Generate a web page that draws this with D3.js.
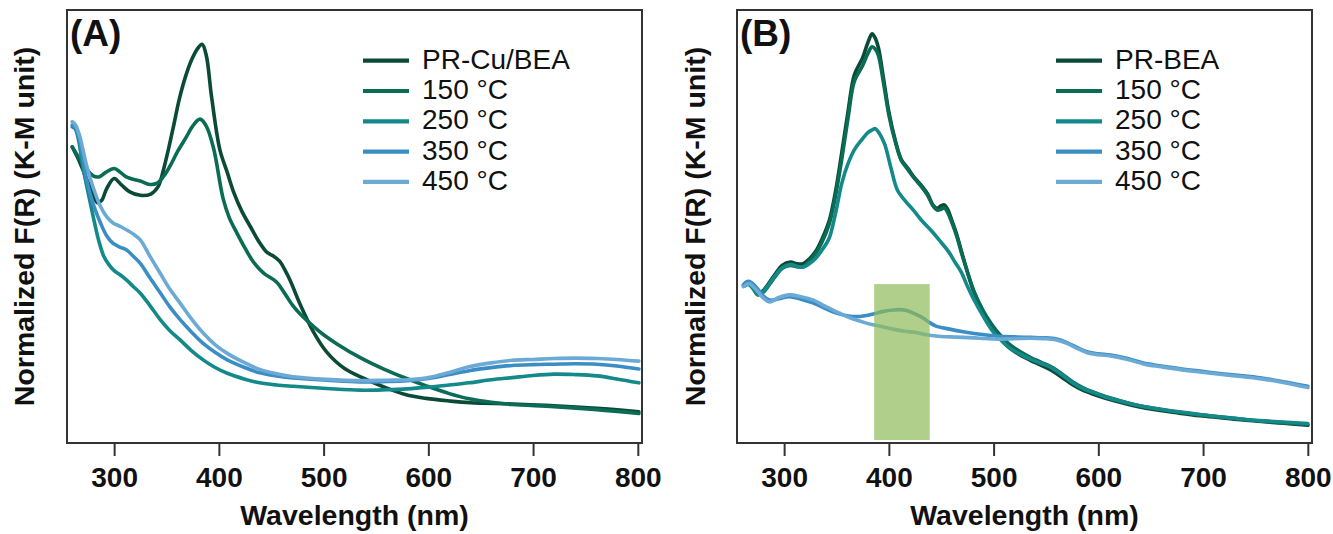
<!DOCTYPE html>
<html><head><meta charset="utf-8">
<script src="https://cdn.jsdelivr.net/npm/d3@7"></script>
<style>
body{margin:0;background:#fff;}
text{font-family:"Liberation Sans",Arial,Helvetica,sans-serif;}
</style></head>
<body><svg id="chart" width="1333" height="534"></svg>
<script>
// ---------- data ----------
const xTicks = [300, 400, 500, 600, 700, 800];
const seriesNamesA = ["PR-Cu/BEA", "150 °C", "250 °C", "350 °C", "450 °C"];
const seriesNamesB = ["PR-BEA", "150 °C", "250 °C", "350 °C", "450 °C"];
const seriesColors = ["#0b4a37", "#0b6c55", "#14898a", "#3b8dc5", "#6baad5"];

const A_PR = [[260,0.684],[266,0.655],[272,0.62],[278,0.585],[284,0.555],[288,0.560],[293,0.588],[300,0.611],[307,0.596],[315,0.580],[325,0.572],[335,0.575],[342,0.592],[347,0.630],[352,0.680],[357,0.735],[362,0.792],[368,0.845],[374,0.885],[380,0.912],[384,0.921],[388,0.895],[393,0.800],[401,0.677],[408,0.625],[414,0.580],[422,0.535],[430,0.500],[438,0.466],[446,0.440],[452,0.432],[458,0.420],[463,0.400],[468,0.376],[478,0.318],[490,0.258],[503,0.210],[520,0.172],[537,0.151],[557,0.130],[578,0.112],[598,0.103],[620,0.097],[640,0.093],[680,0.090],[720,0.086],[761,0.080],[801,0.072]];
const A_150 = [[260,0.684],[266,0.66],[272,0.638],[280,0.617],[286,0.615],[292,0.625],[300,0.634],[306,0.625],[312,0.614],[325,0.605],[334,0.597],[341,0.600],[347,0.615],[353,0.638],[361,0.675],[369,0.707],[375,0.732],[382,0.748],[388,0.732],[395,0.680],[404,0.565],[410,0.520],[417,0.486],[425,0.450],[433,0.418],[443,0.392],[455,0.372],[463,0.345],[471,0.316],[480,0.292],[490,0.270],[500,0.250],[512,0.230],[535,0.197],[558,0.170],[578,0.150],[598,0.132],[620,0.114],[639,0.102],[660,0.094],[680,0.089],[720,0.084],[761,0.077],[801,0.068]];
const A_250 = [[260,0.730],[263,0.725],[266,0.70],[270,0.640],[275,0.580],[280,0.523],[285,0.470],[290,0.432],[295,0.412],[300,0.398],[306,0.388],[312,0.376],[318,0.362],[325,0.346],[334,0.318],[344,0.285],[353,0.260],[363,0.238],[374,0.213],[385,0.192],[396,0.175],[408,0.161],[424,0.148],[439,0.139],[455,0.134],[471,0.131],[503,0.126],[535,0.122],[560,0.123],[580,0.125],[600,0.129],[620,0.134],[639,0.139],[660,0.146],[680,0.151],[700,0.156],[720,0.159],[740,0.158],[761,0.155],[780,0.148],[801,0.139]];
const A_350 = [[260,0.734],[263,0.728],[267,0.70],[270,0.660],[274,0.605],[280,0.552],[287,0.508],[293,0.478],[299,0.461],[306,0.452],[312,0.446],[318,0.432],[325,0.415],[334,0.382],[344,0.347],[353,0.315],[363,0.285],[374,0.256],[385,0.230],[396,0.210],[408,0.192],[424,0.175],[439,0.162],[455,0.155],[471,0.150],[503,0.145],[535,0.141],[560,0.142],[580,0.144],[600,0.149],[620,0.158],[639,0.167],[660,0.174],[680,0.179],[700,0.181],[720,0.182],[740,0.183],[761,0.182],[780,0.178],[801,0.171]];
const A_450 = [[260,0.742],[263,0.735],[267,0.71],[270,0.680],[274,0.638],[280,0.590],[287,0.546],[293,0.522],[299,0.508],[306,0.500],[312,0.492],[318,0.483],[325,0.469],[334,0.432],[344,0.392],[353,0.356],[363,0.323],[374,0.286],[385,0.254],[396,0.228],[408,0.207],[424,0.186],[439,0.170],[455,0.160],[471,0.153],[503,0.147],[535,0.144],[560,0.145],[580,0.146],[600,0.151],[620,0.163],[639,0.176],[660,0.185],[680,0.191],[700,0.193],[720,0.195],[740,0.196],[761,0.195],[780,0.193],[801,0.189]];

const B_PR = [[262,0.365],[266,0.368],[270,0.360],[275,0.345],[280,0.352],[286,0.371],[292,0.392],[298,0.410],[306,0.418],[312,0.414],[318,0.414],[324,0.425],[330,0.442],[336,0.470],[343,0.513],[349,0.580],[355,0.670],[361,0.765],[367,0.850],[375,0.890],[380,0.925],[384,0.945],[387,0.935],[390,0.913],[395,0.840],[400,0.764],[406,0.700],[412,0.654],[418,0.635],[424,0.614],[431,0.595],[437,0.575],[442,0.550],[446,0.542],[450,0.548],[453,0.550],[456,0.540],[460,0.515],[465,0.480],[469,0.445],[475,0.395],[481,0.350],[490,0.302],[498,0.270],[506,0.243],[514,0.222],[524,0.205],[535,0.191],[545,0.180],[555,0.168],[565,0.152],[575,0.135],[585,0.122],[596,0.112],[606,0.104],[616,0.097],[636,0.085],[656,0.076],[677,0.069],[697,0.063],[718,0.058],[738,0.053],[759,0.049],[780,0.045],[800,0.041]];
const B_150 = [[262,0.363],[266,0.366],[270,0.358],[275,0.342],[280,0.348],[286,0.366],[292,0.386],[298,0.403],[306,0.410],[312,0.407],[318,0.408],[324,0.420],[330,0.437],[336,0.463],[343,0.505],[349,0.570],[355,0.655],[361,0.750],[367,0.835],[375,0.872],[380,0.900],[384,0.915],[387,0.910],[390,0.895],[395,0.830],[400,0.758],[406,0.697],[412,0.652],[418,0.632],[424,0.612],[431,0.592],[437,0.572],[442,0.548],[446,0.538],[450,0.540],[453,0.543],[456,0.533],[460,0.510],[465,0.476],[469,0.442],[475,0.395],[481,0.352],[490,0.306],[498,0.275],[506,0.250],[514,0.230],[524,0.213],[535,0.198],[545,0.187],[555,0.176],[565,0.160],[575,0.142],[585,0.128],[596,0.117],[606,0.108],[616,0.101],[636,0.088],[656,0.079],[677,0.071],[697,0.065],[718,0.060],[738,0.055],[759,0.050],[780,0.046],[800,0.042]];
const B_250 = [[262,0.363],[266,0.367],[270,0.358],[275,0.343],[280,0.350],[286,0.368],[292,0.388],[298,0.404],[306,0.412],[312,0.408],[318,0.406],[324,0.414],[330,0.426],[336,0.445],[343,0.473],[349,0.530],[355,0.599],[361,0.645],[367,0.677],[374,0.700],[380,0.717],[384,0.723],[387,0.726],[391,0.715],[396,0.690],[402,0.635],[408,0.585],[416,0.558],[424,0.536],[432,0.512],[441,0.489],[449,0.466],[457,0.442],[463,0.418],[469,0.395],[475,0.362],[481,0.332],[490,0.293],[498,0.262],[506,0.240],[514,0.222],[524,0.207],[535,0.194],[545,0.184],[555,0.174],[565,0.158],[575,0.140],[585,0.126],[596,0.116],[606,0.107],[616,0.100],[636,0.088],[656,0.079],[677,0.072],[697,0.066],[718,0.060],[738,0.055],[759,0.051],[780,0.048],[800,0.045]];
const B_350 = [[261,0.365],[264,0.372],[267,0.373],[270,0.368],[274,0.358],[280,0.340],[286,0.330],[295,0.333],[305,0.338],[316,0.332],[328,0.323],[339,0.311],[350,0.300],[360,0.294],[369,0.292],[377,0.294],[385,0.298],[395,0.304],[404,0.307],[410,0.308],[417,0.306],[425,0.298],[433,0.288],[439,0.278],[445,0.270],[458,0.263],[471,0.257],[487,0.251],[503,0.247],[520,0.245],[535,0.244],[548,0.243],[560,0.240],[570,0.232],[580,0.220],[590,0.210],[600,0.206],[612,0.203],[628,0.195],[644,0.184],[660,0.178],[677,0.172],[697,0.166],[718,0.160],[738,0.155],[759,0.149],[780,0.140],[800,0.131]];
const B_450 = [[261,0.361],[264,0.366],[267,0.368],[270,0.362],[274,0.352],[280,0.335],[286,0.326],[295,0.336],[305,0.342],[316,0.338],[328,0.330],[339,0.316],[350,0.303],[360,0.292],[369,0.284],[377,0.278],[385,0.273],[395,0.268],[404,0.263],[415,0.258],[426,0.255],[436,0.250],[445,0.247],[458,0.245],[471,0.244],[487,0.242],[503,0.240],[520,0.241],[535,0.242],[548,0.241],[560,0.238],[570,0.230],[580,0.218],[590,0.208],[600,0.204],[612,0.201],[628,0.193],[644,0.182],[660,0.176],[677,0.170],[697,0.164],[718,0.158],[738,0.153],[759,0.147],[780,0.138],[800,0.128]];

// highlighted band in panel B (wavelength range, normalized value range)
const highlightX = [386, 439];
const highlightY = [0.007, 0.367];

// ---------- drawing ----------
const svg = d3.select("#chart");
const xDomain = [255, 804];
const yDomain = [0, 1];

const panels = [
  {tag:"(A)", names:seriesNamesA, data:[A_PR,A_150,A_250,A_350,A_450], left:67, right:642, legX:363, yLabX:34, highlight:false},
  {tag:"(B)", names:seriesNamesB, data:[B_PR,B_150,B_250,B_350,B_450], left:737, right:1312, legX:1056, yLabX:705, highlight:true}
];
const plotTop = 10, plotBottom = 443;

panels.forEach(p => {
  const x = d3.scaleLinear().domain(xDomain).range([p.left, p.right]);
  const y = d3.scaleLinear().domain(yDomain).range([plotBottom, plotTop]);
  const g = svg.append("g");

  const line = d3.line().x(d => x(d[0])).y(d => y(d[1])).curve(d3.curveCatmullRom.alpha(0.5));
  p.data.forEach((ser, i) => {
    g.append("path").datum(ser).attr("d", line)
      .attr("fill", "none").attr("stroke", seriesColors[i])
      .attr("stroke-width", 3.6).attr("stroke-linejoin", "round").attr("stroke-linecap", "round");
  });

  if (p.highlight) {
    g.append("rect")
      .attr("x", x(highlightX[0])).attr("width", x(highlightX[1]) - x(highlightX[0]))
      .attr("y", y(highlightY[1])).attr("height", y(highlightY[0]) - y(highlightY[1]))
      .attr("fill", "#8dbb5a").attr("opacity", 0.7);
  }

  // frame
  g.append("rect").attr("x", p.left).attr("y", plotTop)
    .attr("width", p.right - p.left).attr("height", plotBottom - plotTop)
    .attr("fill", "none").attr("stroke", "#333").attr("stroke-width", 2);

  // x axis
  const ax = g.append("g").attr("transform", `translate(0,${plotBottom})`)
    .call(d3.axisBottom(x).tickValues(xTicks).tickSize(13).tickPadding(11).tickFormat(d3.format("d")));
  ax.select(".domain").remove();
  ax.selectAll(".tick line").attr("stroke", "#333").attr("stroke-width", 2);
  ax.selectAll(".tick text").attr("font-size", 28).attr("font-weight", "bold").attr("fill", "#111")
    .style("font-family", '"Liberation Sans",Arial,sans-serif');

  g.append("text").attr("x", (p.left + p.right) / 2).attr("y", 525)
    .attr("text-anchor", "middle").attr("font-size", 28.5).attr("font-weight", "bold").attr("fill", "#111")
    .text("Wavelength (nm)");

  g.append("text").attr("transform", `translate(${p.yLabX},${(plotTop + plotBottom) / 2}) rotate(-90)`)
    .attr("text-anchor", "middle").attr("font-size", 28.5).attr("font-weight", "bold").attr("fill", "#111")
    .text("Normalized F(R) (K-M unit)");

  g.append("text").attr("x", p.left + 3).attr("y", 46)
    .attr("font-size", 37).attr("font-weight", "bold").attr("fill", "#111").text(p.tag);

  // legend
  p.names.forEach((n, i) => {
    const ry = 60.7 + 30.3 * i;
    g.append("line").attr("x1", p.legX).attr("x2", p.legX + 46).attr("y1", ry).attr("y2", ry)
      .attr("stroke", seriesColors[i]).attr("stroke-width", 4.2);
    g.append("text").attr("x", p.legX + 59).attr("y", ry + 8)
      .attr("font-size", 28).attr("fill", "#111").text(n);
  });
});
</script></body></html>
